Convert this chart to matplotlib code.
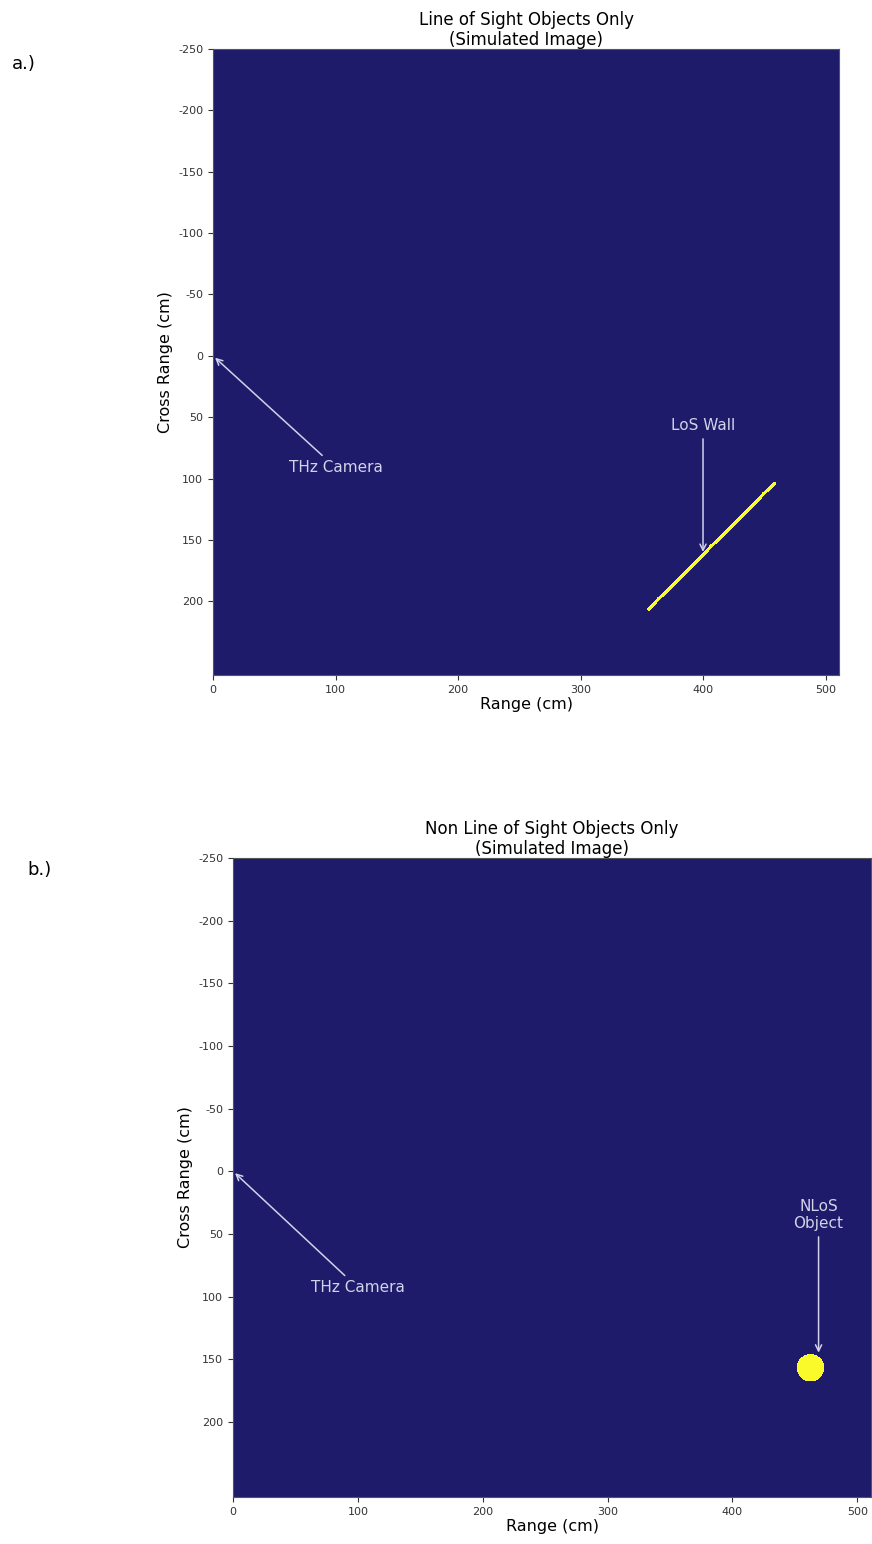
import matplotlib
matplotlib.use("Agg")
import matplotlib.pyplot as plt
import numpy as np
from matplotlib.colors import ListedColormap

plt.rcParams["axes.unicode_minus"] = False

# ── Scene geometry (cm) ───────────────────────────────────────────────────────
RANGE_MAX = 511
XRANGE_MIN, XRANGE_MAX = -250, 260
CELL = 0.8

CAMERA_POS = (0, 0)
LOS_WALL_START = (355, 207)
LOS_WALL_END = (458, 104)
LOS_WALL_WIDTH = 1.3
NLOS_CENTER = (462, 157)
NLOS_RADIUS = 11

YTICKS = [-250, -200, -150, -100, -50, 0, 50, 100, 150, 200]
XTICKS = [0, 100, 200, 300, 400, 500]

BG_COLOR = "#1e1b6b"
OBJ_COLOR = "#fafa2a"
ANN_COLOR = "#d2d2ea"
CMAP = ListedColormap([BG_COLOR, OBJ_COLOR])


def grid():
    xs = np.arange(0, RANGE_MAX, CELL) + CELL / 2
    ys = np.arange(XRANGE_MIN, XRANGE_MAX, CELL) + CELL / 2
    return np.meshgrid(xs, ys)


def wall_image():
    X, Y = grid()
    (x0, y0), (x1, y1) = LOS_WALL_START, LOS_WALL_END
    dx, dy = x1 - x0, y1 - y0
    t = np.clip(((X - x0) * dx + (Y - y0) * dy) / (dx * dx + dy * dy), 0, 1)
    d = np.hypot(X - (x0 + t * dx), Y - (y0 + t * dy))
    return (d <= LOS_WALL_WIDTH).astype(float)


def object_image():
    X, Y = grid()
    d = np.hypot(X - NLOS_CENTER[0], Y - NLOS_CENTER[1])
    return (d <= NLOS_RADIUS).astype(float)


def draw_panel(ax, img, title):
    ax.imshow(img, cmap=CMAP, vmin=0, vmax=1, interpolation="nearest",
              extent=[0, RANGE_MAX, XRANGE_MAX, XRANGE_MIN], aspect="auto")
    ax.set_xlim(0, RANGE_MAX)
    ax.set_ylim(XRANGE_MAX, XRANGE_MIN)
    ax.set_xticks(XTICKS)
    ax.set_yticks(YTICKS)
    ax.tick_params(labelsize=8, colors="#333333")
    ax.set_xlabel("Range (cm)", fontsize=11.5, labelpad=2)
    ax.set_ylabel("Cross Range (cm)", fontsize=11.5)
    ax.set_title(title, fontsize=12, linespacing=1.15, pad=3)
    for s in ax.spines.values():
        s.set_color("#555555")
        s.set_linewidth(0.8)


arrow = dict(arrowstyle="->", color=ANN_COLOR, lw=1.1)

fig = plt.figure(figsize=(8.72, 15.44), dpi=100)

# a.) line of sight
ax_a = fig.add_axes([213 / 872, 1 - 675 / 1544, 626 / 872, 626 / 1544])
draw_panel(ax_a, wall_image(), "Line of Sight Objects Only\n(Simulated Image)")
ax_a.annotate("THz Camera", xy=CAMERA_POS, xytext=(100, 91), color=ANN_COLOR,
              fontsize=11, ha="center", va="center", arrowprops=arrow)
ax_a.annotate("LoS Wall", xy=(400, 162), xytext=(400, 57), color=ANN_COLOR,
              fontsize=11, ha="center", va="center", arrowprops=arrow)
fig.text(12 / 872, 1 - 64 / 1544, "a.)", fontsize=13, va="center")

# b.) non line of sight
ax_b = fig.add_axes([233 / 872, 1 - 1497 / 1544, 638 / 872, 639 / 1544])
draw_panel(ax_b, object_image(), "Non Line of Sight Objects Only\n(Simulated Image)")
ax_b.annotate("THz Camera", xy=CAMERA_POS, xytext=(100, 93), color=ANN_COLOR,
              fontsize=11, ha="center", va="center", arrowprops=arrow)
ax_b.annotate("NLoS\nObject", xy=(469, 147), xytext=(469, 35), color=ANN_COLOR,
              fontsize=11, ha="center", va="center", arrowprops=arrow)
fig.text(27 / 872, 1 - 870 / 1544, "b.)", fontsize=13, va="center")

fig.savefig("out.png", dpi=100, facecolor="white")
plt.close(fig)
